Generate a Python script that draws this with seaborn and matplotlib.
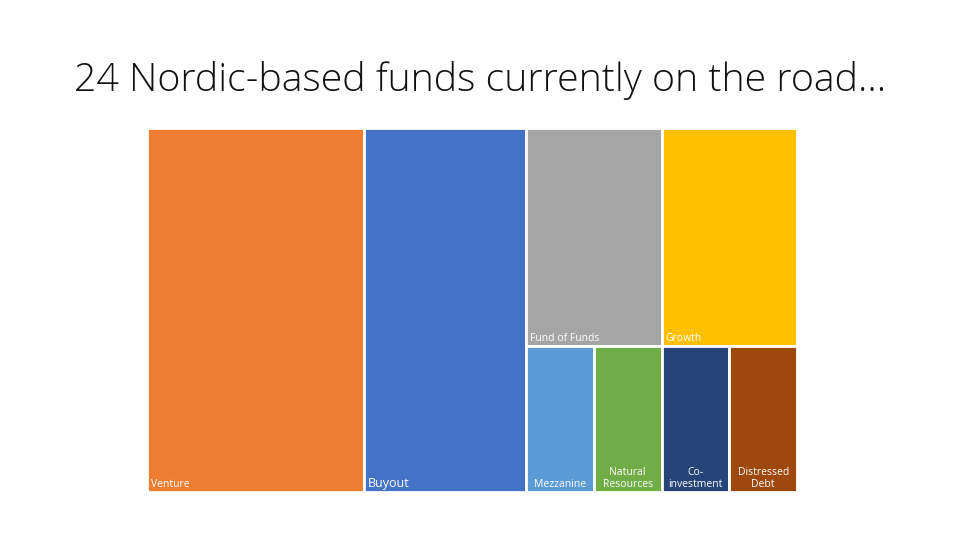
import matplotlib
matplotlib.use("Agg")
import matplotlib.pyplot as plt
import seaborn as sns
from matplotlib.patches import Rectangle

# Nordic funds on the road, by strategy (number of funds)
categories = ["Venture", "Buyout", "Fund of Funds", "Growth",
              "Mezzanine", "Natural Resources", "Co-investment", "Distressed Debt"]
labels = ["Venture", "Buyout", "Fund of Funds", "Growth",
          "Mezzanine", "Natural\nResources", "Co-\ninvestment", "Distressed\nDebt"]
counts = [8, 6, 3, 3, 1, 1, 1, 1]
colors = ["#ED7D31", "#4472C4", "#A5A5A5", "#FFC000",
          "#5B9BD5", "#70AD47", "#264478", "#9E480E"]


def strip_layout(values, x, y, w, h):
    # groups of equal values become strips cut along the longer side
    groups = []
    for i, v in enumerate(values):
        if groups and values[groups[-1][0]] == v:
            groups[-1].append(i)
        else:
            groups.append([i])
    rects = [None] * len(values)
    total = float(sum(values))
    for g in groups:
        gsum = sum(values[i] for i in g)
        if w >= h:
            sw, sh = w * gsum / total, h
            sx, sy = x, y
            x, w = x + sw, w - sw
        else:
            sw, sh = w, h * gsum / total
            sx, sy = x, y
            y, h = y + sh, h - sh
        total -= gsum
        pos = 0.0
        for i in g:
            f = values[i] / gsum
            if sw >= sh:
                rects[i] = (sx + pos * sw, sy, sw * f, sh)
            else:
                rects[i] = (sx, sy + pos * sh, sw, sh * f)
            pos += f
    return rects


sns.set_theme(style="white")
plt.rcParams["font.family"] = ["Open Sans", "DejaVu Sans"]

fig = plt.figure(figsize=(9.6, 5.4), dpi=100)
ax = fig.add_axes([147 / 960, 48 / 540, 650 / 960, 364 / 540])
W, H = 650, 364
ax.set_xlim(0, W)
ax.set_ylim(H, 0)
ax.axis("off")

rects = strip_layout(counts, 0, 0, W, H)
for (rx, ry, rw, rh), lab, col, n in zip(rects, labels, colors, counts):
    ax.add_patch(Rectangle((rx, ry), rw, rh, facecolor=col,
                           edgecolor="white", linewidth=2))
    if n >= 3:
        size = 9 if lab == "Buyout" else 7.5
        ax.text(rx + 4, ry + rh - 2, lab, color="white", fontsize=size,
                ha="left", va="bottom")
    else:
        ax.text(rx + rw / 2, ry + rh - 2, lab, color="white", fontsize=7.5,
                ha="center", va="bottom", linespacing=1.1)

fig.text(0.5, 1 - 81 / 540, "24 Nordic-based funds currently on the road…",
         ha="center", va="center", fontsize=28.3, fontweight="light",
         color="#111111")

fig.savefig("out.png", dpi=100, facecolor="white")
